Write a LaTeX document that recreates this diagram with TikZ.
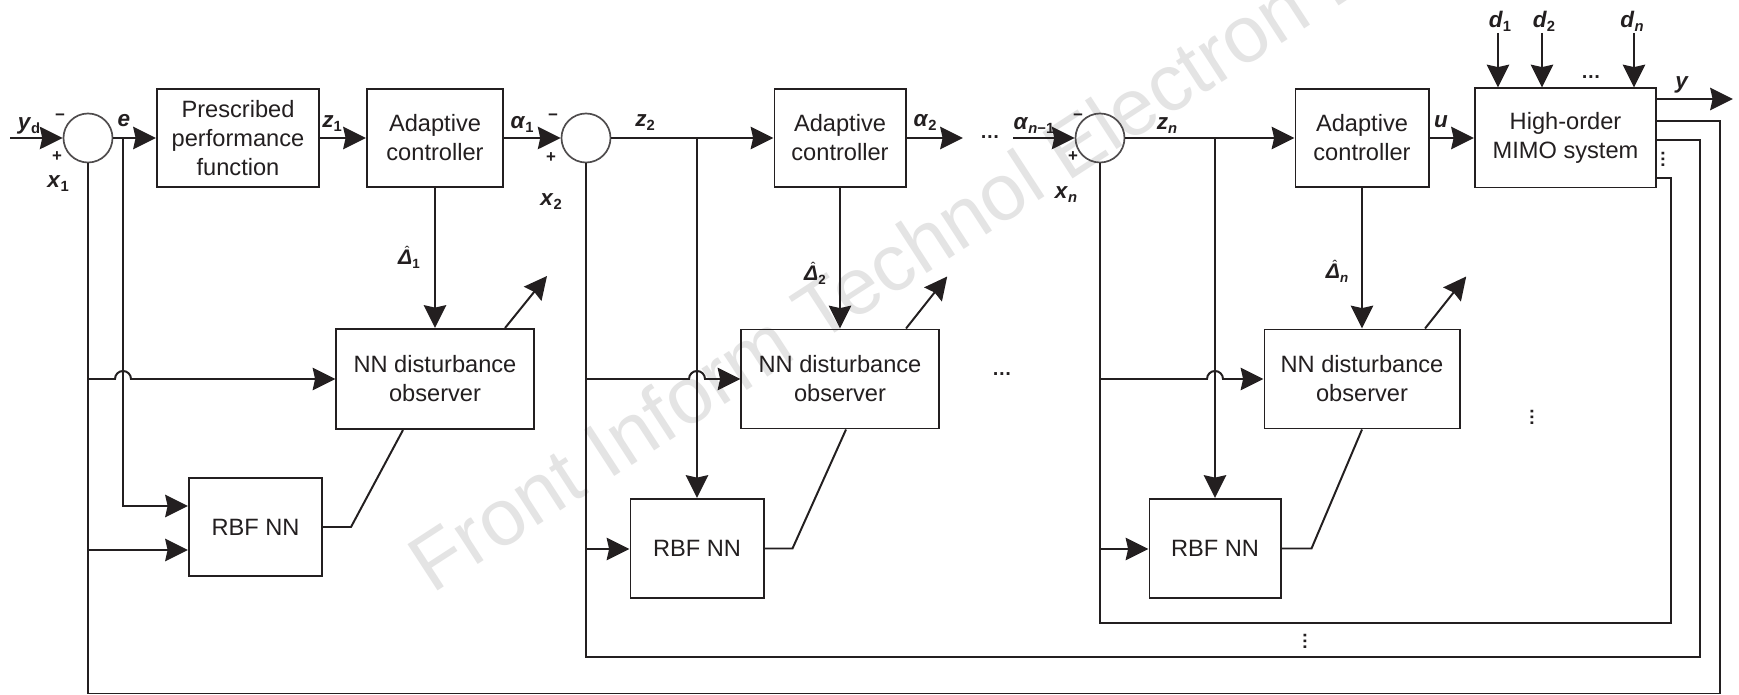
\documentclass[tikz,border=0pt]{standalone}
\usepackage{fontspec}
\setmainfont{Liberation Sans}
\usetikzlibrary{arrows.meta,calc}
\definecolor{ink}{HTML}{231F20}
\definecolor{wmgray}{HTML}{E4E4E4}
\newcommand{\lb}[1]{\textbf{\textit{#1}}}
\newcommand{\sbs}[1]{\raisebox{-0.3ex}{\fontsize{10.5}{11}\selectfont\bfseries #1}}
\newcommand{\dsub}[1]{\raisebox{-0.3ex}{\fontsize{9.5}{10}\selectfont\bfseries #1}}
\newcommand{\dhat}[1]{\rlap{\hspace{0.32em}\raisebox{0.42em}{\fontsize{10}{10}\selectfont ˆ}}\lb{Δ}\dsub{#1}}
\begin{document}
\begin{tikzpicture}[x=0.025cm,y=-0.025cm,
  line width=1.4pt, color=ink,
  arr/.style={-{Stealth[length=0.57cm,width=0.56cm,inset=0.06cm]}},
  blk/.style={draw=ink, line width=1.4pt, align=center, inner sep=0pt, text=ink,
    font=\fontsize{16.8}{20.6}\selectfont},
  sumj/.style={circle, draw=ink!80, line width=1.2pt, minimum size=1.225cm, inner sep=0pt},
  lab/.style={font=\fontsize{16}{18}\selectfont, text=ink, inner sep=0pt, anchor=base},
  lab2/.style={font=\fontsize{15}{17}\selectfont, text=ink, inner sep=0pt, anchor=base},
  sgn/.style={font=\fontsize{12}{14}\selectfont\bfseries, text=ink, inner sep=0pt},
  hdots/.style={font=\fontsize{14}{16}\selectfont\bfseries, text=ink, inner sep=0pt},
  vdots/.style={font=\fontsize{13}{15}\selectfont\bfseries, text=ink, inner sep=0pt},
  wmark/.style={font=\fontsize{57}{64}\selectfont, text=wmgray, inner sep=0pt}
]
\useasboundingbox (0,0) rectangle (1739,695);
\fill[white] (0,0) rectangle (1739,695);

% watermark
\begin{scope}
\clip (0,0) rectangle (1739,695);
\node[wmark, rotate=33, anchor=base west] (wm) at (432,595) {Front Inform Technol Electron Eng};
\end{scope}

% ---------- blocks ----------
\node[sumj] (c1) at (88,138) {};
\node[sumj] (c2) at (586,138) {};
\node[sumj] (cn) at (1100,138) {};

\node[blk, minimum width=4.05cm, minimum height=2.45cm] (ppf) at (238,138) {Prescribed\\performance\\function};
\node[blk, minimum width=3.4cm, minimum height=2.45cm] (ac1) at (435,138) {Adaptive\\controller};
\node[blk, minimum width=3.275cm, minimum height=2.45cm] (ac2) at (840,138) {Adaptive\\controller};
\node[blk, minimum width=3.325cm, minimum height=2.45cm] (acn) at (1362,138) {Adaptive\\controller};
\node[blk, minimum width=4.525cm, minimum height=2.475cm] (mimo) at (1565.5,138) {High-order\\MIMO system};

\node[blk, minimum width=4.925cm, minimum height=2.5cm] (nn1) at (435,379) {NN disturbance\\observer};
\node[blk, minimum width=4.925cm, minimum height=2.475cm] (nn2) at (840,379) {NN disturbance\\observer};
\node[blk, minimum width=4.875cm, minimum height=2.475cm] (nnn) at (1362,379) {NN disturbance\\observer};

\node[blk, minimum width=3.325cm, minimum height=2.45cm] (rbf1) at (255.5,527) {RBF NN};
\node[blk, minimum width=3.325cm, minimum height=2.475cm] (rbf2) at (697,548.5) {RBF NN};
\node[blk, minimum width=3.275cm, minimum height=2.475cm] (rbfn) at (1215,548.5) {RBF NN};

% ---------- coordinates ----------
\coordinate (in) at (10,138);
\coordinate (be) at (123,138);
\coordinate (b2) at (697,138);
\coordinate (bn) at (1215,138);
\coordinate (a2e) at (963,138);
\coordinate (ans) at (1013,138);
\coordinate (d1) at (1498,33);
\coordinate (d2) at (1542,33);
\coordinate (dn) at (1634,33);
\coordinate (yo) at (1733,99);
\coordinate (f1) at (1720,693.5);
\coordinate (f2) at (1700,657);
\coordinate (fn) at (1671,623);
\coordinate (j1a) at (88,379);
\coordinate (j1b) at (88,550);
\coordinate (j2a) at (586,379);
\coordinate (j2b) at (586,549);
\coordinate (jna) at (1100,379);
\coordinate (jnb) at (1100,549);

% ---------- forward path ----------
\draw[arr] (in) -- (c1);
\draw (c1) -- (be);
\draw[arr] (be) -- (ppf);
\draw[arr] (be) |- ([yshift=0.525cm]rbf1.west);
\draw[arr] (ppf) -- (ac1);
\draw[arr] (ac1) -- (c2);
\draw[arr] (ac1) -- (nn1);
\draw (c2) -- (b2);
\draw[arr] (b2) -- (ac2);
\draw[arr] (b2) -- (rbf2);
\draw[arr] (ac2) -- (a2e);
\draw[arr] (ac2) -- (nn2);
\draw[arr] (ans) -- (cn);
\draw (cn) -- (bn);
\draw[arr] (bn) -- (acn);
\draw[arr] (bn) -- (rbfn);
\draw[arr] (acn) -- (mimo);
\draw[arr] (acn) -- (nnn);

% disturbances and output
\draw[arr] (d1) -- (d1 |- mimo.north);
\draw[arr] (d2) -- (d2 |- mimo.north);
\draw[arr] (dn) -- (dn |- mimo.north);
\draw[arr] (mimo.east |- yo) -- (yo);

% ---------- feedback ----------
\draw ([yshift=0.425cm]mimo.east) -| (f1) -| (c1.south);
\draw ([yshift=-0.05cm]mimo.east) -| (f2) -| (c2.south);
\draw ([yshift=-1cm]mimo.east) -| (fn) -| (cn.south);

\draw[arr] (j1a) -- ($(be |- j1a)+(-0.2cm,0)$) arc[start angle=180,end angle=0,radius=0.2cm] -- (nn1);
\draw[arr] (j1b) -- (j1b -| rbf1.west);
\draw[arr] (j2a) -- ($(b2 |- j2a)+(-0.2cm,0)$) arc[start angle=180,end angle=0,radius=0.2cm] -- (nn2);
\draw[arr] (j2b) -- (j2b -| rbf2.west);
\draw[arr] (jna) -- ($(bn |- jna)+(-0.2cm,0)$) arc[start angle=180,end angle=0,radius=0.2cm] -- (nnn);
\draw[arr] (jnb) -- (jnb -| rbfn.west);

% RBF -> observer
\draw (rbf1.east) -- ++(0.7cm,0) -- ([xshift=-0.8cm]nn1.south);
\draw (rbf2.east) -- ++(0.7cm,0) -- ([xshift=0.15cm]nn2.south);
\draw (rbfn.east) -- ++(0.75cm,0) -- (nnn.south);

% observer outputs
\draw[arr] ([xshift=1.75cm]nn1.north) -- ++(1.05cm,1.3cm);
\draw[arr] ([xshift=1.65cm]nn2.north) -- ++(1.03cm,1.3cm);
\draw[arr] ([xshift=1.575cm]nnn.north) -- ++(1.03cm,1.3cm);

% ---------- labels ----------
\node[lab] (lyd) at (29,130) {\lb{y}\sbs{d}};
\node[sgn] (m1) at (60,117) {−};
\node[sgn] (p1) at (57,157) {+};
\node[lab] (lx1) at (58,188) {\lb{x}\sbs{1}};
\node[lab] (le) at (124,127) {\lb{e}};
\node[lab] (lz1) at (332,128) {\lb{z}\sbs{1}};
\node[lab] (la1) at (522,129) {\lb{α}\sbs{1}};
\node[sgn] (m2) at (553,117) {−};
\node[sgn] (p2) at (551,158) {+};
\node[lab] (lx2) at (551,206) {\lb{x}\sbs{2}};
\node[lab] (lz2) at (645,127) {\lb{z}\sbs{2}};
\node[lab] (la2) at (925,127) {\lb{α}\sbs{2}};
\node[lab] (lan) at (1034,130) {\lb{α}\sbs{\textit{n}−1}};
\node[sgn] (mn) at (1078,117) {−};
\node[sgn] (pn) at (1073,157) {+};
\node[lab] (lxn) at (1066,199) {\lb{x}\sbs{\textit{n}}};
\node[lab] (lzn) at (1167,130) {\lb{z}\sbs{\textit{n}}};
\node[lab] (lu) at (1441,128) {\lb{u}};
\node[lab] (ld1) at (1500,28) {\lb{d}\sbs{1}};
\node[lab] (ld2) at (1544,28) {\lb{d}\sbs{2}};
\node[lab] (ldn) at (1632,28) {\lb{d}\sbs{\textit{n}}};
\node[lab] (ly) at (1682,89) {\lb{y}};
\node[lab2] (lD1) at (409,265) {\dhat{1}};
\node[lab2] (lD2) at (815,281) {\dhat{2}};
\node[lab2] (lDn) at (1337,279) {\dhat{\textit{n}}};

% dots
\node[hdots] (dt1) at (990,137) {…};
\node[hdots] (dt2) at (1591,77) {…};
\node[hdots] (dt3) at (1002,374) {…};
\node[vdots] (vd1) at (1663,159) {\rotatebox{90}{…}};
\node[vdots] (vd2) at (1532,417) {\rotatebox{90}{…}};
\node[vdots] (vd3) at (1305,641) {\rotatebox{90}{…}};
\end{tikzpicture}
\end{document}
